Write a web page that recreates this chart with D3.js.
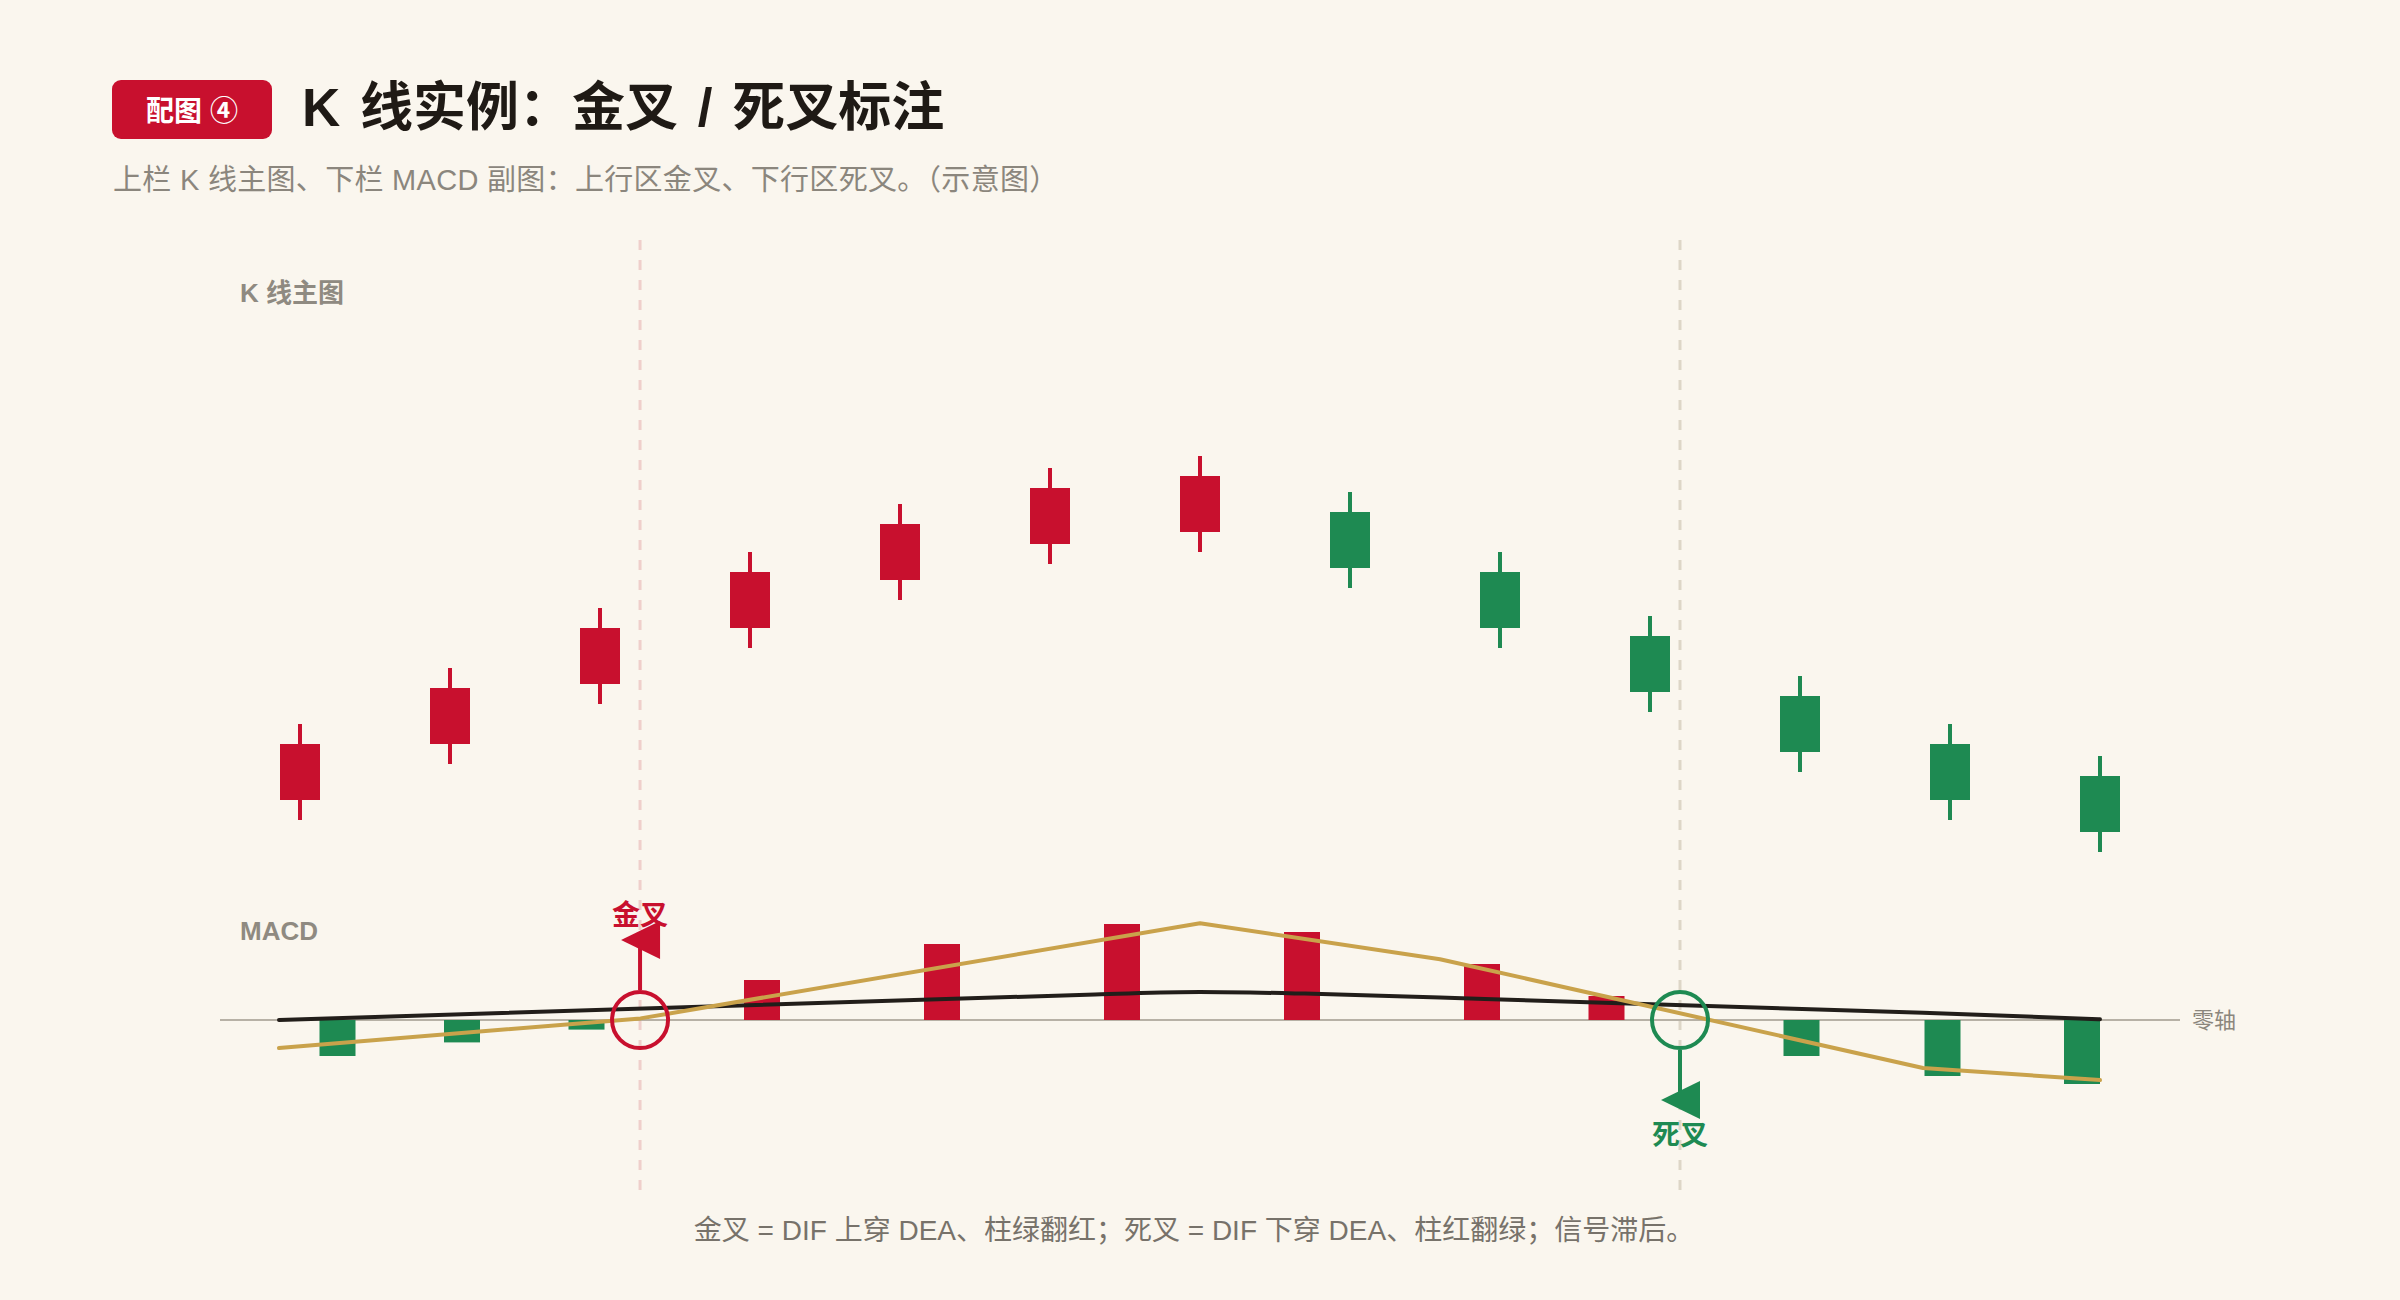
<!DOCTYPE html>
<html lang="zh-CN">
<head>
<meta charset="utf-8">
<title>K 线实例：金叉 / 死叉标注</title>
<script src="https://cdn.jsdelivr.net/npm/d3@7.9.0/dist/d3.min.js"></script>
<style>
  html, body { margin: 0; padding: 0; background: #faf6ee; }
  svg { display: block; font-family: "Liberation Sans", "Noto Sans CJK SC", sans-serif; }
</style>
</head>
<body>
<svg id="chart" width="2400" height="1300"></svg>
<script>
// K-line data (13 sessions)
const candleOpen = [25, 39, 54, 68, 80, 89, 92, 97, 82, 66, 51, 39, 31];
const candleClose = [39, 53, 68, 82, 94, 103, 106, 83, 68, 52, 37, 25, 17];
const candleHigh = [44, 58, 73, 87, 99, 108, 111, 102, 87, 71, 56, 44, 36];
const candleLow = [20, 34, 49, 63, 75, 84, 87, 78, 63, 47, 32, 20, 12];

// MACD histogram (position in session units, value)
const histT = [0.25, 1.08, 1.91, 3.08, 4.28, 5.48, 6.68, 7.88, 8.71, 10.01, 10.95, 11.88];
const histValue = [-0.45, -0.28, -0.12, 0.5, 0.95, 1.2, 1.1, 0.7, 0.3, -0.45, -0.7, -0.8];

// DIF (fast) and DEA (slow) lines
const difT = [-0.14, 2.27, 6, 7.6, 10.82, 12];
const difValue = [-0.35, 0.02, 1.21, 0.76, -0.6, -0.75];
const deaT = [-0.14, 5.3, 6, 6.7, 7.6, 10.82, 12];
const deaValue = [0, 0.32, 0.35, 0.33, 0.28, 0.09, 0.01];

// crossing signals
const crossT = [2.267, 9.2];
const crossLabel = ["金叉", "死叉"];
const crossDir = [-1, 1]; // -1 = flag above (golden), 1 = flag below (death)

const RED = "#c8102e";
const GREEN = "#1e8a52";
const GOLD = "#c9a24b";
const INK = "#221e1a";

let svg = d3.select("#chart");

let x = d3.scaleLinear().domain([0, 12]).range([300, 2100]);
let yK = d3.scaleLinear().domain([0, 120]).range([900, 420]);
let yM = d3.scaleLinear().domain([-1, 1]).range([1100, 940]);

// header
svg.append("rect").attr("x", 112).attr("y", 80).attr("width", 160).attr("height", 59)
  .attr("rx", 9).attr("fill", RED);
svg.append("text").attr("x", 192).attr("y", 111).attr("text-anchor", "middle")
  .attr("dominant-baseline", "central").attr("fill", "#fff")
  .attr("font-size", 28).attr("font-weight", 700).text("配图 ④");
svg.append("text").attr("x", 302).attr("y", 126).attr("fill", "#1f1a15")
  .attr("font-size", 53).attr("font-weight", 700).attr("word-spacing", 5)
  .text("K 线实例：金叉 / 死叉标注");
svg.append("text").attr("x", 113).attr("y", 190).attr("fill", "#8b867d")
  .attr("font-size", 29).attr("letter-spacing", 0.3)
  .text("上栏 K 线主图、下栏 MACD 副图：上行区金叉、下行区死叉。（示意图）");

// vertical signal guides
crossT.forEach((t, i) => {
  svg.append("line").attr("x1", x(t)).attr("x2", x(t)).attr("y1", 240).attr("y2", 1190)
    .attr("stroke", i === 0 ? "#efcfcb" : "#ddd6c7").attr("stroke-width", 3)
    .attr("stroke-dasharray", "10 10");
});

// panel labels
svg.append("text").attr("x", 240).attr("y", 302).attr("fill", "#8f8a81")
  .attr("font-size", 26).attr("font-weight", 700).text("K 线主图");
svg.append("text").attr("x", 240).attr("y", 940).attr("fill", "#8f8a81")
  .attr("font-size", 26).attr("font-weight", 700).text("MACD");

// candles
let candles = svg.append("g").selectAll("g")
  .data(candleOpen.map((o, i) => ({ i, o, c: candleClose[i], h: candleHigh[i], l: candleLow[i] })))
  .join("g")
  .attr("fill", (d) => (d.c >= d.o ? RED : GREEN))
  .attr("stroke", (d) => (d.c >= d.o ? RED : GREEN));
candles.append("line")
  .attr("x1", (d) => x(d.i)).attr("x2", (d) => x(d.i))
  .attr("y1", (d) => yK(d.h)).attr("y2", (d) => yK(d.l))
  .attr("stroke-width", 4);
candles.append("rect")
  .attr("x", (d) => x(d.i) - 20).attr("width", 40)
  .attr("y", (d) => yK(Math.max(d.o, d.c)))
  .attr("height", (d) => Math.abs(yK(d.o) - yK(d.c)))
  .attr("stroke", "none");

// zero axis
svg.append("line").attr("x1", 220).attr("x2", 2180).attr("y1", yM(0)).attr("y2", yM(0))
  .attr("stroke", "#b7b1a6").attr("stroke-width", 2);
svg.append("text").attr("x", 2192).attr("y", yM(0)).attr("dominant-baseline", "central")
  .attr("fill", "#8b867d").attr("font-size", 22).text("零轴");

// histogram
svg.append("g").selectAll("rect")
  .data(histT.map((t, i) => ({ t, v: histValue[i] })))
  .join("rect")
  .attr("x", (d) => x(d.t) - 18).attr("width", 36)
  .attr("y", (d) => Math.min(yM(d.v), yM(0)))
  .attr("height", (d) => Math.abs(yM(d.v) - yM(0)))
  .attr("fill", (d) => (d.v >= 0 ? RED : GREEN));

// DIF / DEA
let difLine = d3.line().x((d) => x(d[0])).y((d) => yM(d[1]));
let deaLine = d3.line().x((d) => x(d[0])).y((d) => yM(d[1])).curve(d3.curveMonotoneX);
svg.append("path").attr("d", deaLine(deaT.map((t, i) => [t, deaValue[i]])))
  .attr("fill", "none").attr("stroke", INK).attr("stroke-width", 4).attr("stroke-linecap", "round");
svg.append("path").attr("d", difLine(difT.map((t, i) => [t, difValue[i]])))
  .attr("fill", "none").attr("stroke", GOLD).attr("stroke-width", 4)
  .attr("stroke-linecap", "round").attr("stroke-linejoin", "round");

// cross markers: circle, stem, flag and label
crossT.forEach((t, i) => {
  let cx = x(t), cy = yM(0), s = crossDir[i];
  let col = i === 0 ? RED : GREEN;
  let g = svg.append("g");
  g.append("circle").attr("cx", cx).attr("cy", cy).attr("r", 28)
    .attr("fill", "none").attr("stroke", col).attr("stroke-width", 4);
  g.append("line").attr("x1", cx).attr("x2", cx).attr("y1", cy + s * 30).attr("y2", cy + s * 78)
    .attr("stroke", col).attr("stroke-width", 4);
  g.append("path")
    .attr("d", `M${cx + 20},${cy + s * 61}L${cx + 20},${cy + s * 99}L${cx - 19},${cy + s * 80}Z`)
    .attr("fill", col);
  g.append("text").attr("x", cx).attr("y", s < 0 ? cy - 95 : cy + 125)
    .attr("text-anchor", "middle").attr("fill", col)
    .attr("font-size", 28).attr("font-weight", 700).text(crossLabel[i]);
});

// footer note
svg.append("text").attr("x", 1194).attr("y", 1240).attr("text-anchor", "middle")
  .attr("fill", "#77726a").attr("font-size", 28)
  .text("金叉 = DIF 上穿 DEA、柱绿翻红；死叉 = DIF 下穿 DEA、柱红翻绿；信号滞后。");
</script>
</body>
</html>
